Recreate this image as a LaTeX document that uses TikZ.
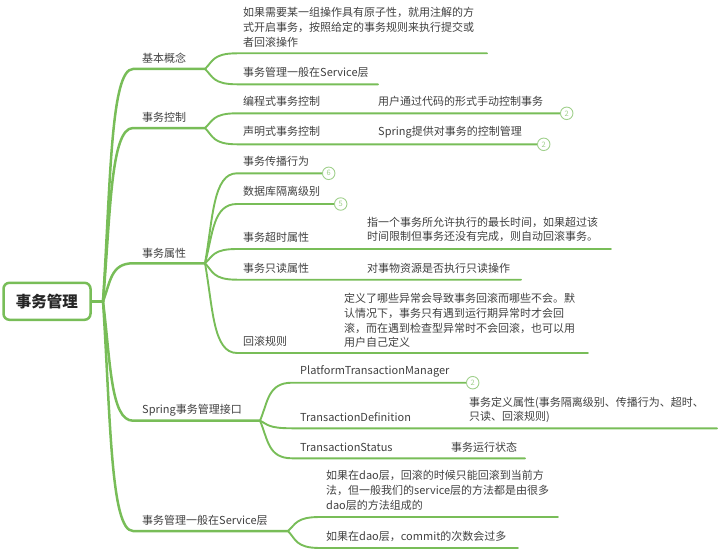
\documentclass[tikz,border=0pt]{standalone}
\usepackage{fontspec}
\newfontfamily\cjk{Noto Sans CJK SC}
\definecolor{mapgreen}{RGB}{120,189,88}
\definecolor{palegreen}{RGB}{160,208,140}
\definecolor{inkgray}{RGB}{64,64,64}
\usetikzlibrary{calc}

\begin{document}
\begin{tikzpicture}[x=1pt, y=-1pt,
      l1/.style={draw=mapgreen, line width=2.5pt, line cap=round},
      l2/.style={draw=mapgreen, line width=1.9pt, line cap=round},
      twig/.style={to path={let \p1=(\tikztostart), \p2=(\tikztotarget) in
                    .. controls ({\x1+0.25*(\x2-\x1)},{\y1+0.5*(\y2-\y1)})
                    and ({\x1+0.25*(\x2-\x1)},\y2) .. (\tikztotarget)}},
      topic/.style={anchor=west, inner sep=0pt, align=left, text=inkgray,
                    font=\cjk\fontsize{11}{14.8}\selectfont},
      badge/.style={circle, draw=palegreen, fill=white, line width=0.9pt, inner sep=0pt,
                    minimum size=12.5pt, text=palegreen, font=\cjk\fontsize{7.5}{7.5}\selectfont},
      rootbox/.style={draw=mapgreen, line width=2.5pt, rounded corners=6pt, fill=white,
                      minimum width=87pt, minimum height=37pt, text=black!85,
                      font=\cjk\bfseries\fontsize{15.5}{15.5}\selectfont}
    ]
    \useasboundingbox (0,0) rectangle (720,551);

    \coordinate (hub) at (103,301.3);
    \coordinate (bS) at (133,69);    \coordinate (bE) at (205,69);
    \coordinate (kS) at (133,128);   \coordinate (kE) at (205,128);
    \coordinate (pS) at (133,263.3); \coordinate (pE) at (205,263.3);
    \coordinate (iS) at (133,420.7); \coordinate (iE) at (260,420.7);
    \coordinate (sS) at (133,531);   \coordinate (sE) at (288,531);

    \coordinate (a1S) at (237,53.3);  \coordinate (a1E) at (487,53.3);
    \coordinate (a2S) at (237,84.3);  \coordinate (a2E) at (378,84.3);
    \coordinate (k1S) at (237,113.3); \coordinate (k1E) at (560,113.3);
    \coordinate (k2S) at (237,144.3); \coordinate (k2E) at (537,144.3);
    \coordinate (p1S) at (237,173.3); \coordinate (p1E) at (322,173.3);
    \coordinate (p2S) at (237,204);   \coordinate (p2E) at (334,204);
    \coordinate (p3S) at (237,249);   \coordinate (p3E) at (611,249);
    \coordinate (p4S) at (237,279.7); \coordinate (p4E) at (521,279.7);
    \coordinate (p5S) at (237,353);   \coordinate (p5E) at (588,353);
    \coordinate (i1S) at (292,382.7); \coordinate (i1E) at (466,382.7);
    \coordinate (i2S) at (292,428.3); \coordinate (i2E) at (717,428.3);
    \coordinate (i3S) at (292,458.3); \coordinate (i3E) at (525,458.3);
    \coordinate (s1S) at (320,517);   \coordinate (s1E) at (558,517);
    \coordinate (s2S) at (320,548);   \coordinate (s2E) at (518,548);

    \node[rootbox] (root) at (47,301.3) {事务管理};
    \draw[l1] (root.east) -- (hub);
    \draw[l1] (hub) to[twig] (bS) -- (bE);
    \draw[l1] (hub) to[twig] (kS) -- (kE);
    \draw[l1] (hub) to[twig] (pS) -- (pE);
    \draw[l1] (hub) to[twig] (iS) -- (iE);
    \draw[l1] (hub) to[twig] (sS) -- (sE);

    \draw[l2] (bE) to[twig] (a1S) -- (a1E);
    \draw[l2] (bE) to[twig] (a2S) -- (a2E);
    \draw[l2] (kE) to[twig] (k1S) -- (k1E);
    \draw[l2] (kE) to[twig] (k2S) -- (k2E);
    \draw[l2] (pE) to[twig] (p1S) -- (p1E);
    \draw[l2] (pE) to[twig] (p2S) -- (p2E);
    \draw[l2] (pE) to[twig] (p3S) -- (p3E);
    \draw[l2] (pE) to[twig] (p4S) -- (p4E);
    \draw[l2] (pE) to[twig] (p5S) -- (p5E);
    \draw[l2] (iE) to[twig] (i1S) -- (i1E);
    \draw[l2] (iE) to[twig] (i2S) -- (i2E);
    \draw[l2] (iE) to[twig] (i3S) -- (i3E);
    \draw[l2] (sE) to[twig] (s1S) -- (s1E);
    \draw[l2] (sE) to[twig] (s2S) -- (s2E);

    \node[badge, right=0pt] (k1n) at (k1E) {2};
    \node[badge, right=0pt] (k2n) at (k2E) {2};
    \node[badge, right=0pt] (p1n) at (p1E) {6};
    \node[badge, right=0pt] (p2n) at (p2E) {5};
    \node[badge, right=0pt] (i1n) at (i1E) {2};

    \node[topic] (basic) at (142,58) {基本概念};
    \node[topic] (ctrl) at (142,117) {事务控制};
    \node[topic] (attr) at (142,253.3) {事务属性};
    \node[topic] (iface) at (142,410) {Spring事务管理接口};
    \node[topic] (layer) at (142,520.7) {事务管理一般在Service层};

    \node[topic] (atomic) at (243,27.5) {如果需要某一组操作具有原子性，就用注解的方\\
      式开启事务，按照给定的事务规则来执行提交或\\者回滚操作};
    \node[topic] (svc) at (243,72.7) {事务管理一般在Service层};
    \node[topic] (prog) at (243,101.7) {编程式事务控制};
    \node[topic] (progd) at (378,101.7) {用户通过代码的形式手动控制事务};
    \node[topic] (decl) at (243,131.5) {声明式事务控制};
    \node[topic] (decld) at (378,132) {Spring提供对事务的控制管理};
    \node[topic] (prop) at (243,161.7) {事务传播行为};
    \node[topic] (iso) at (243,191.7) {数据库隔离级别};
    \node[topic] (tout) at (243,237.7) {事务超时属性};
    \node[topic] (toutd) at (367,229.5) {指一个事务所允许执行的最长时间，如果超过该\\
      时间限制但事务还没有完成，则自动回滚事务。};
    \node[topic] (ronly) at (243,268.3) {事务只读属性};
    \node[topic] (ronlyd) at (367,268.3) {对事物资源是否执行只读操作};
    \node[topic] (rback) at (243,341.7) {回滚规则};
    \node[topic] (rbackd) at (344,320.5) {定义了哪些异常会导致事务回滚而哪些不会。默\\
      认情况下，事务只有遇到运行期异常时才会回\\滚，而在遇到检查型异常时不会回滚，也可以用\\
      用户自己定义};

    \node[topic] (ptm) at (300,371.7) {PlatformTransactionManager};
    \node[topic] (tdef) at (300,416.7) {TransactionDefinition};
    \node[topic] (tdefd) at (469,410) {事务定义属性(事务隔离级别、传播行为、超时、\\只读、回滚规则)};
    \node[topic] (tst) at (300,447.3) {TransactionStatus};
    \node[topic] (tstd) at (451,447.3) {事务运行状态};

    \node[topic] (dao1) at (326,490.5) {如果在dao层，回滚的时候只能回滚到当前方\\
      法，但一般我们的service层的方法都是由很多\\dao层的方法组成的};
    \node[topic] (dao2) at (326,536) {如果在dao层，commit的次数会过多};
  \end{tikzpicture}
\end{document}
